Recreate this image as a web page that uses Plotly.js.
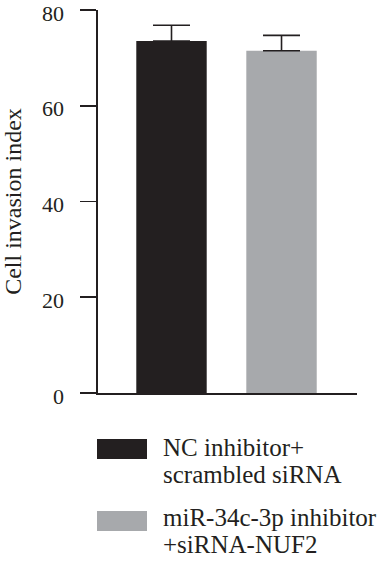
<!DOCTYPE html>
<html>
<head>
<meta charset="utf-8">
<script src="https://cdn.plot.ly/plotly-3.0.1.min.js"></script>
<style>html,body{margin:0;padding:0;background:#fff;}#chart{width:377px;height:566px;}</style>
</head>
<body>
<div id="chart"></div>
<script>
// Data
var categories = ["NC inhibitor+ scrambled siRNA", "miR-34c-3p inhibitor +siRNA-NUF2"];
var legendLines = [["NC inhibitor+", "scrambled siRNA"], ["miR-34c-3p inhibitor", "+siRNA-NUF2"]];
var values = [73.5, 71.5];
var errors = [3.3, 3.2];
var colors = ["#231f20", "#a7a9ac"];
var yTicks = [0, 20, 40, 60, 80];
var yTitle = "Cell invasion index";

var ink = "#231f20";
var font = "Liberation Serif, Times New Roman, serif";

var traces = categories.map(function(c, i) {
  return {
    type: "bar",
    x: [i],
    y: [values[i]],
    name: c,
    width: 0.64,
    marker: {color: colors[i], line: {width: 0}},
    error_y: {type: "data", symmetric: false, array: [errors[i]], arrayminus: [0],
              color: ink, thickness: 1.6, width: 18.5},
    showlegend: false,
    hoverinfo: "none"
  };
});

// Custom legend (swatches + text)
var L = 98, R = 20, T = 10, B = 173;
var W = 377 - L - R, H = 566 - T - B;
function px2x(p) { return (p - L) / W; }
function py2y(p) { return (566 - B - p) / H; }

var swTops = [439, 511];
var baselines = [[456, 483], [526, 553]];
var shapes = [], annotations = [];
categories.forEach(function(c, i) {
  shapes.push({type: "rect", xref: "paper", yref: "paper",
    x0: px2x(97), x1: px2x(147), y0: py2y(swTops[i]), y1: py2y(swTops[i] + 20),
    fillcolor: colors[i], line: {width: 0}});
  legendLines[i].forEach(function(t, j) {
    annotations.push({xref: "paper", yref: "paper", x: px2x(161), y: py2y(baselines[i][j] - 8.5),
      xanchor: "left", yanchor: "middle", text: t, showarrow: false,
      font: {family: font, size: 25, color: ink}});
  });
});

var layout = {
  width: 377, height: 566,
  margin: {l: L, r: R, t: T, b: B, pad: 0},
  paper_bgcolor: "#fff", plot_bgcolor: "#fff",
  barmode: "overlay",
  showlegend: false,
  xaxis: {range: [-0.668, 1.686], showline: true, linecolor: ink, linewidth: 1.6,
          ticks: "", showticklabels: false, showgrid: false, zeroline: false, fixedrange: true},
  yaxis: {range: [0, 80], tickmode: "array", tickvals: yTicks, ticktext: yTicks.map(String),
          ticks: "outside", ticklen: 16, tickwidth: 1.6, tickcolor: ink,
          showline: true, linecolor: ink, linewidth: 1.6, showgrid: false, zeroline: false,
          ticklabelstandoff: 12, ticklabelshift: 3, ticklabeloverflow: "allow",
          tickfont: {family: font, size: 22, color: ink},
          title: {text: yTitle, font: {family: font, size: 24, color: ink}, standoff: 14}},
  shapes: shapes,
  annotations: annotations
};

Plotly.newPlot("chart", traces, layout, {staticPlot: true, displayModeBar: false});
</script>
</body>
</html>
